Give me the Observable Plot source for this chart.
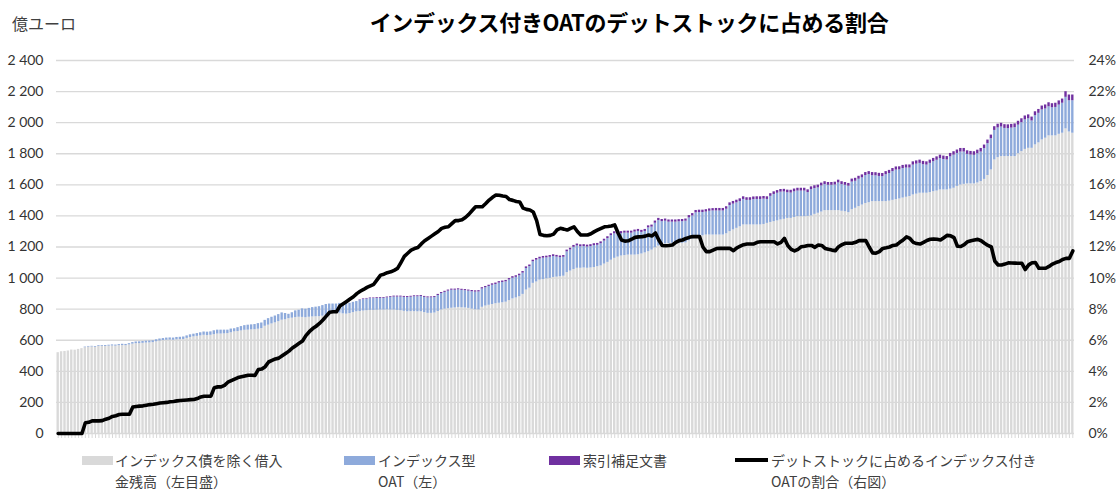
<!DOCTYPE html>
<html><head><meta charset="utf-8">
<script src="https://cdn.jsdelivr.net/npm/d3@7"></script>
<script src="https://cdn.jsdelivr.net/npm/@observablehq/plot@0.6"></script>
<style>
body{margin:0;background:#fff;}
#wrap{position:relative;width:1117px;height:491px;overflow:hidden;font-family:"Noto Sans CJK JP","Noto Sans",sans-serif;}
#wrap svg{position:absolute;left:0;top:0;}
.abs{position:absolute;white-space:nowrap;}
#title{left:0;width:1258px;top:6px;text-align:center;font-size:22px;font-weight:bold;line-height:30px;color:#000;letter-spacing:-0.3px;}
#unit{left:12px;top:11px;font-size:16px;line-height:24px;color:#404040;}
.lt{font-size:14px;line-height:20.5px;height:20.5px;color:#404040;}
.l1{top:450px;}
.l2{top:470.5px;}
.sw{height:9px;top:456px;width:31px;}
</style></head><body><div id="wrap"></div><script>
// --- data (monthly, Jan 1998 - Dec 2022) ---
const grey = [
520,526,528,531,537,536,541,546,552,556,557,554,
560,561,560,562,563,562,565,566,565,570,575,578,
578,580,582,583,585,590,595,598,600,601,600,603,
604,605,612,618,622,625,628,632,630,632,636,640,
640,641,643,648,654,656,660,664,665,667,668,671,
675,690,697,705,712,720,729,732,739,742,746,748,
747,745,748,750,751,752,755,758,773,778,783,775,
770,768,772,778,783,785,788,790,792,792,793,794,
794,795,794,794,792,790,786,783,784,784,783,783,
778,773,773,775,785,795,800,803,806,808,811,809,
808,805,800,796,795,812,820,825,830,835,838,841,
845,855,866,872,880,895,923,935,966,975,987,990,
995,998,1004,1006,1009,1012,1035,1045,1055,1063,1063,1065,
1063,1065,1068,1073,1078,1090,1101,1115,1127,1135,1142,1145,
1148,1148,1148,1150,1155,1162,1170,1180,1195,1206,1215,1220,
1222,1224,1224,1224,1224,1226,1240,1250,1262,1267,1272,1277,
1277,1277,1277,1277,1277,1285,1299,1310,1320,1330,1342,1342,
1342,1342,1342,1342,1345,1352,1358,1363,1368,1374,1378,1384,
1384,1390,1395,1395,1395,1397,1400,1410,1417,1425,1434,1434,
1434,1434,1434,1430,1427,1421,1440,1449,1460,1470,1480,1485,
1492,1492,1492,1492,1492,1495,1500,1505,1509,1515,1520,1525,
1535,1540,1546,1546,1546,1550,1556,1560,1567,1567,1567,1572,
1578,1590,1599,1603,1606,1606,1606,1612,1621,1635,1660,1696,
1760,1775,1782,1782,1782,1782,1782,1800,1814,1828,1835,1835,
1857,1870,1889,1900,1915,1915,1915,1925,1932,1960,1940,1932
];
const blue = [
0,0,0,0,0,0,0,0,4,4,4,5,
5,5,6,6,7,7,7,8,8,8,10,11,
12,12,12,12,12,13,13,13,14,14,14,15,
15,16,16,17,17,18,20,21,22,22,25,25,
25,24,22,24,20,25,28,30,32,32,33,36,
36,38,42,43,44,45,47,40,28,35,43,45,
55,55,57,60,62,64,68,72,60,55,50,62,
65,68,66,66,66,70,74,75,76,76,76,76,
76,78,82,84,86,88,90,92,93,96,97,99,
98,100,100,100,103,105,108,113,116,114,113,112,
111,111,112,114,116,118,118,121,124,124,130,131,
131,133,133,133,135,137,139,139,139,140,136,138,
135,136,135,129,122,122,134,136,143,144,139,138,
137,138,141,138,143,148,153,158,158,150,144,144,
141,141,148,150,139,138,153,148,158,164,148,146,
138,136,136,138,139,140,147,150,158,155,150,148,
153,155,155,155,155,158,168,166,164,163,164,158,
158,163,164,164,163,154,168,175,178,179,176,165,
163,165,165,165,165,153,169,166,163,168,168,163,
163,165,178,172,170,170,178,174,176,175,180,181,
167,166,162,161,173,178,185,190,187,190,188,183,
192,193,192,184,181,188,193,198,202,196,193,208,
213,212,212,208,190,186,184,188,190,198,205,201,
190,191,190,181,180,183,186,184,186,190,190,176,
188,190,193,188,187,181,183,188,193,203,201,209
];
const purple = [
0,0,0,0,0,0,0,0,0,0,0,0,
0,0,0,0,0,0,0,0,0,0,0,0,
0,0,0,0,0,0,0,0,0,0,0,0,
0,0,0,0,0,0,0,0,0,0,0,0,
0,0,0,0,0,0,0,0,0,0,0,0,
0,0,0,0,0,0,0,0,0,0,0,0,
0,0,0,0,0,0,0,0,0,0,0,0,
0,0,0,0,0,4,4,4,4,4,5,5,
5,5,5,6,6,6,6,6,6,6,6,6,
6,6,6,6,7,7,7,7,7,7,7,7,
7,7,8,8,8,8,8,8,9,9,9,9,
9,9,10,10,10,10,10,10,10,11,11,11,
11,11,11,11,11,11,11,11,12,12,12,12,
12,12,12,12,12,12,12,12,13,13,13,13,
13,13,13,13,13,13,13,13,14,14,14,14,
14,14,14,14,14,14,15,15,15,15,15,15,
15,15,16,16,16,16,17,17,17,17,17,17,
17,17,17,17,17,17,17,17,17,17,17,17,
18,18,18,18,18,18,18,18,18,18,18,18,
18,18,18,18,18,18,19,19,19,19,19,19,
20,20,20,20,20,20,20,20,20,20,20,20,
21,21,21,21,21,21,21,22,22,22,22,22,
22,22,23,23,23,23,23,23,23,23,23,23,
24,24,24,24,24,24,24,25,25,25,25,25,
25,25,25,26,26,26,27,27,27,36,37,37
];
const share = [
0,0,0,0,0,0,0,0,0.69,0.72,0.81,0.81,
0.81,0.83,0.92,0.98,1.10,1.14,1.22,1.24,1.24,1.24,1.71,1.74,
1.76,1.78,1.82,1.86,1.88,1.92,1.96,1.98,2.0,2.04,2.06,2.10,
2.12,2.14,2.16,2.18,2.19,2.25,2.35,2.40,2.40,2.40,2.95,3.0,
3.0,3.1,3.3,3.4,3.5,3.6,3.65,3.7,3.75,3.75,3.74,4.12,
4.15,4.3,4.6,4.7,4.8,4.85,5.0,5.15,5.3,5.5,5.65,5.8,
5.95,6.3,6.55,6.75,6.9,7.08,7.3,7.55,7.8,7.83,7.83,8.2,
8.35,8.5,8.65,8.8,9.0,9.15,9.27,9.4,9.5,9.6,9.9,10.19,
10.25,10.35,10.4,10.5,10.62,11.0,11.4,11.6,11.8,11.9,11.97,12.2,
12.4,12.55,12.7,12.85,13.0,13.2,13.27,13.3,13.5,13.7,13.7,13.75,
13.9,14.1,14.35,14.59,14.59,14.59,14.8,15.02,15.2,15.34,15.33,15.28,
15.25,15.05,15.0,14.93,14.9,14.5,14.42,14.38,14.25,13.7,12.8,12.75,
12.72,12.75,12.83,13.1,13.2,13.15,13.09,13.2,13.3,13.0,12.77,12.77,
12.77,12.85,12.99,13.1,13.2,13.3,13.32,13.35,13.42,12.9,12.45,12.38,
12.4,12.5,12.62,12.65,12.66,12.7,12.77,12.71,12.9,12.45,12.1,12.08,
12.1,12.13,12.3,12.41,12.45,12.55,12.62,12.67,12.67,12.67,12.0,11.7,
11.7,11.8,11.9,11.91,11.91,11.91,11.91,11.76,11.95,12.05,12.15,12.19,
12.19,12.2,12.3,12.34,12.34,12.34,12.34,12.34,12.2,12.3,12.56,12.1,
11.85,11.75,11.85,12.02,12.05,12.1,12.1,11.98,12.13,12.1,11.91,11.85,
11.8,11.76,12.02,12.15,12.24,12.24,12.24,12.3,12.41,12.41,12.41,12.0,
11.62,11.6,11.7,11.91,11.95,12.0,12.1,12.13,12.3,12.45,12.65,12.55,
12.3,12.22,12.19,12.3,12.42,12.5,12.52,12.5,12.45,12.6,12.75,12.72,
12.6,12.05,12.03,12.15,12.34,12.4,12.45,12.49,12.4,12.24,12.1,12.0,
11.1,10.84,10.84,10.9,10.98,10.97,10.96,10.95,10.95,10.55,10.85,10.99,
11.0,10.63,10.63,10.63,10.75,10.9,11.0,11.06,11.2,11.27,11.27,11.75
];
const leftTicks = [0,200,400,600,800,1000,1200,1400,1600,1800,2000,2200,2400];
const seriesNames = ["インデックス債を除く借入金残高（左目盛）","インデックス型OAT（左）","索引補足文書"];
const seriesColors = ["#d9d9d9","#8eaadb","#7030a0"];
const lineName = "デットストックに占めるインデックス付きOATの割合（右図）";
const titleText = "インデックス付きOATのデットストックに占める割合";
const unitText = "億ユーロ";

// --- build tables ---
const months = d3.utcMonth.range(new Date(Date.UTC(1998,0,1)), new Date(Date.UTC(2023,0,1)));
const idx = months.map((m,i)=>i);
const rows = [];
idx.forEach(i=>{
  rows.push({i, s:seriesNames[0], v:grey[i]});
  rows.push({i, s:seriesNames[1], v:blue[i]});
  rows.push({i, s:seriesNames[2], v:purple[i]});
});
const lineRows = idx.map(i=>({i, v: share[i]*100})); // 1% on right axis = 100 on left axis
const fmtLeft = d => d3.format(",")(d).replace(/,/g," ");

const chart = Plot.plot({
  width:1117, height:491,
  marginTop:60, marginBottom:58, marginLeft:56, marginRight:43,
  style:{fontFamily:"Lato, 'Noto Sans', sans-serif", fontSize:"14px", color:"#333", background:"transparent"},
  x:{type:"band", domain:idx, paddingInner:0.3, paddingOuter:0.15, axis:null},
  y:{domain:[0,2400], axis:null},
  color:{domain:seriesNames, range:seriesColors},
  marks:[
    Plot.gridY(leftTicks, {stroke:"#d9d9d9", strokeOpacity:1, strokeWidth:1.4}),
    Plot.axisY(leftTicks, {anchor:"left", tickSize:0, tickPadding:13, tickFormat:fmtLeft, label:null}),
    Plot.axisY(leftTicks, {anchor:"right", tickSize:0, tickPadding:14, tickFormat:d=>(d/100)+"%", label:null}),
    Plot.axisX({ticks:idx, tickSize:5, tickFormat:()=>"", stroke:"#d9d9d9", label:null}),
    Plot.barY(rows, {x:"i", y:"v", fill:"s", order:seriesNames}),
    Plot.line(lineRows, {x:"i", y:"v", stroke:"#000", strokeWidth:3.6, strokeLinejoin:"round", strokeLinecap:"round"})
  ]
});
const wrap = document.getElementById("wrap");
wrap.appendChild(chart);

function addDiv(cls, id, html, style){
  const d = document.createElement("div");
  d.className = "abs " + cls; if(id) d.id = id;
  d.innerHTML = html; Object.assign(d.style, style||{});
  wrap.appendChild(d); return d;
}
addDiv("", "title", titleText);
addDiv("", "unit", unitText);
// legend
addDiv("sw", null, "", {left:"82px", background:seriesColors[0]});
addDiv("lt l1", null, "インデックス債を除く借入", {left:"115px"});
addDiv("lt l2", null, "金残高（左目盛）", {left:"115px"});
addDiv("sw", null, "", {left:"344px", background:seriesColors[1]});
addDiv("lt l1", null, "インデックス型", {left:"378px"});
addDiv("lt l2", null, "OAT（左）", {left:"378px"});
addDiv("sw", null, "", {left:"549px", background:seriesColors[2]});
addDiv("lt l1", null, "索引補足文書", {left:"583px"});
addDiv("", null, "", {left:"735px", top:"458px", width:"33px", height:"4px", background:"#000"});
addDiv("lt l1", null, "デットストックに占めるインデックス付き", {left:"771px"});
addDiv("lt l2", null, "OATの割合（右図）", {left:"771px"});
</script></body></html>
